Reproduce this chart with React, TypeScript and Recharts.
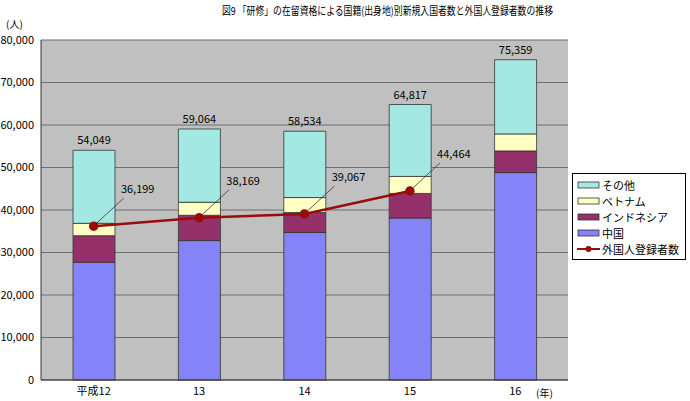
import {
  ComposedChart,
  Bar,
  Line,
  XAxis,
  YAxis,
  CartesianGrid,
  LabelList,
} from "recharts";

const years = ["平成12", "13", "14", "15", "16"];
const china = [27700, 32800, 34700, 38100, 48800];
const indonesia = [6250, 5960, 4700, 5800, 5100];
const vietnam = [2920, 3060, 3530, 4000, 4000];
const others = [17179, 17244, 15604, 16917, 17459];
const totals = [54049, 59064, 58534, 64817, 75359];
const registered = [36199, 38169, 39067, 44464, null];
const yTicks = [0, 10000, 20000, 30000, 40000, 50000, 60000, 70000, 80000];

const FONT = "'Noto Sans CJK JP', sans-serif";

const data = years.map((year, i) => ({
  year,
  china: china[i],
  indonesia: indonesia[i],
  vietnam: vietnam[i],
  others: others[i],
  total: totals[i],
  registered: registered[i],
}));

const legendItems = [
  { name: "その他", color: "#a4e8e4", type: "rect" },
  { name: "ベトナム", color: "#ffffc4", type: "rect" },
  { name: "インドネシア", color: "#96306a", type: "rect" },
  { name: "中国", color: "#8484f8", type: "rect" },
  { name: "外国人登録者数", color: "#9a0c0c", type: "line" },
];

const fmt = (v: number) => v.toLocaleString("en-US");

// leader line + value for the registered line
const RegLabel = (props: any) => {
  const { x, y, value } = props;
  if (value == null) return null;
  return (
    <g>
      <line x1={x + 3} y1={y - 3} x2={x + 30} y2={y - 28} stroke="#333" strokeWidth={0.8} />
      <text x={x + 44} y={y - 33} textAnchor="middle" fontSize={11} fontFamily={FONT} fill="#000">
        {fmt(value)}
      </text>
    </g>
  );
};

const LegendBox = () => (
  <div
    style={{
      position: "absolute",
      left: 572,
      top: 173,
      border: "1px solid #000",
      background: "#fff",
      width: 114,
      padding: "3px 0 2px 4px",
      fontSize: 11,
      lineHeight: "16px",
      boxSizing: "border-box",
    }}
  >
    {legendItems.map((it) => (
      <div key={it.name} style={{ display: "flex", alignItems: "center" }}>
        <svg width={24} height={12} style={{ marginRight: 1 }}>
          {it.type === "rect" ? (
            <rect x={1} y={3} width={21} height={6} fill={it.color} stroke="#333" strokeWidth={0.8} />
          ) : (
            <g>
              <line x1={0} y1={6} x2={23} y2={6} stroke={it.color} strokeWidth={2} />
              <circle cx={11.5} cy={6} r={3} fill={it.color} />
            </g>
          )}
        </svg>
        <span>{it.name}</span>
      </div>
    ))}
  </div>
);

export default function App() {
  return (
    <div
      style={{
        position: "absolute",
        left: 0,
        top: 0,
        width: 690,
        height: 401,
        background: "#fff",
        fontFamily: FONT,
      }}
    >
      <ComposedChart
        width={690}
        height={401}
        data={data}
        margin={{ top: 40, right: 122, bottom: 1, left: 0 }}
      >
        <CartesianGrid horizontal vertical={false} fill="#c0c0c0" stroke="#6e6e6e" strokeWidth={1} />
        <XAxis
          dataKey="year"
          height={20}
          tickSize={0}
          tickMargin={7}
          axisLine={{ stroke: "#333" }}
          tick={{ fontSize: 11, fill: "#000", fontFamily: FONT }}
        />
        <YAxis
          width={41}
          domain={[0, 80000]}
          ticks={yTicks}
          tickFormatter={fmt}
          tickSize={0}
          tickMargin={7}
          axisLine={{ stroke: "#333" }}
          tick={{ fontSize: 11, fill: "#000", fontFamily: FONT }}
        />
        <Bar dataKey="china" name="中国" stackId="a" fill="#8484f8" stroke="#333" strokeWidth={0.8} barSize={42} isAnimationActive={false} />
        <Bar dataKey="indonesia" name="インドネシア" stackId="a" fill="#96306a" stroke="#333" strokeWidth={0.8} barSize={42} isAnimationActive={false} />
        <Bar dataKey="vietnam" name="ベトナム" stackId="a" fill="#ffffc4" stroke="#333" strokeWidth={0.8} barSize={42} isAnimationActive={false} />
        <Bar dataKey="others" name="その他" stackId="a" fill="#a4e8e4" stroke="#333" strokeWidth={0.8} barSize={42} isAnimationActive={false}>
          <LabelList
            dataKey="total"
            position="top"
            offset={6}
            formatter={(v: any) => fmt(v)}
            style={{ fontSize: 11, fill: "#000", fontFamily: FONT }}
          />
        </Bar>
        <Line
          dataKey="registered"
          name="外国人登録者数"
          stroke="#9a0c0c"
          strokeWidth={2.5}
          dot={{ r: 3.5, fill: "#9a0c0c", stroke: "#9a0c0c" }}
          isAnimationActive={false}
        >
          <LabelList dataKey="registered" content={RegLabel} />
        </Line>
      </ComposedChart>

      <svg width={690} height={22} style={{ position: "absolute", left: 0, top: 0 }}>
        <text
          x={222}
          y={15}
          fontSize={11}
          fontFamily={FONT}
          fill="#000"
          textLength={331}
          lengthAdjust="spacingAndGlyphs"
        >
          図9 「研修」の在留資格による国籍(出身地)別新規入国者数と外国人登録者数の推移
        </text>
      </svg>
      <div style={{ position: "absolute", left: 6, top: 17, fontSize: 10, lineHeight: "14px" }}>(人)</div>
      <div style={{ position: "absolute", left: 536, top: 386, fontSize: 10, lineHeight: "14px" }}>(年)</div>
      <LegendBox />
    </div>
  );
}
